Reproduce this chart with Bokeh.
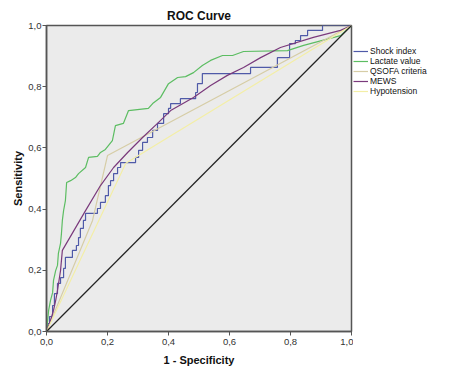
from bokeh.plotting import figure
from bokeh.layouts import row
from bokeh.models import Range1d, FixedTicker, Legend, LegendItem
from bokeh.embed import file_html
from bokeh.resources import INLINE

# ---- data ----
tick_values = [0.0, 0.2, 0.4, 0.6, 0.8, 1.0]
tick_labels = ["0,0", "0,2", "0,4", "0,6", "0,8", "1,0"]

shock_fpr = [0.000, 0.003, 0.010, 0.020, 0.026, 0.036, 0.046, 0.056, 0.062, 0.085, 0.098,
             0.105, 0.111, 0.121, 0.128, 0.167, 0.177, 0.193, 0.203, 0.210, 0.220, 0.233,
             0.243, 0.292, 0.302, 0.315, 0.331, 0.348, 0.364, 0.384, 0.400, 0.407, 0.439,
             0.489, 0.495, 0.511, 0.669, 0.757, 0.797, 0.816, 0.833, 0.856, 0.905, 1.000]
shock_tpr = [0.000, 0.026, 0.049, 0.085, 0.124, 0.157, 0.176, 0.206, 0.242, 0.265, 0.281,
             0.307, 0.337, 0.363, 0.386, 0.402, 0.422, 0.444, 0.477, 0.493, 0.516, 0.536,
             0.552, 0.569, 0.592, 0.618, 0.634, 0.657, 0.680, 0.712, 0.729, 0.745, 0.761,
             0.781, 0.810, 0.843, 0.863, 0.895, 0.941, 0.951, 0.967, 0.984, 1.000, 1.000]

lactate_fpr = [0.000, 0.007, 0.013, 0.020, 0.023, 0.030, 0.036, 0.039, 0.046, 0.049, 0.052,
               0.056, 0.062, 0.066, 0.079, 0.095, 0.105, 0.128, 0.138, 0.167, 0.177, 0.193,
               0.216, 0.226, 0.252, 0.269, 0.334, 0.348, 0.374, 0.400, 0.430, 0.456, 0.482,
               0.511, 0.538, 0.577, 0.610, 0.646, 0.790, 0.843, 0.964, 1.000]
lactate_tpr = [0.000, 0.069, 0.101, 0.127, 0.167, 0.199, 0.216, 0.255, 0.288, 0.320, 0.363,
               0.395, 0.428, 0.487, 0.493, 0.503, 0.516, 0.536, 0.569, 0.572, 0.585, 0.595,
               0.624, 0.673, 0.680, 0.722, 0.729, 0.745, 0.765, 0.810, 0.830, 0.833, 0.846,
               0.869, 0.886, 0.902, 0.902, 0.915, 0.918, 0.935, 0.967, 1.000]

qsofa_fpr = [0.000, 0.151, 0.200, 1.000]
qsofa_tpr = [0.000, 0.363, 0.575, 1.000]

mews_fpr = [0.000, 0.013, 0.023, 0.030, 0.036, 0.046, 0.052, 0.128, 0.177, 0.220, 0.266,
            0.315, 0.364, 0.407, 0.482, 0.538, 0.593, 0.646, 0.702, 0.767, 0.875, 0.964, 1.000]
mews_tpr = [0.000, 0.036, 0.069, 0.101, 0.134, 0.199, 0.265, 0.395, 0.477, 0.536, 0.585,
            0.634, 0.680, 0.722, 0.765, 0.804, 0.837, 0.863, 0.895, 0.928, 0.961, 0.984, 1.000]

hypo_fpr = [0.000, 0.260, 1.000]
hypo_tpr = [0.000, 0.550, 1.000]

ref_x = [0.0, 1.0]
ref_y = [0.0, 1.0]

names = ["Shock index", "Lactate value", "QSOFA criteria", "MEWS", "Hypotension"]
colors = ["#4f5aa8", "#5cbd62", "#d6cda6", "#7a3a7c", "#f3eea6"]

FONT = "Liberation Sans"

# ---- main chart ----
p = figure(width=353, height=373, output_backend="svg", toolbar_location=None,
           x_range=Range1d(0, 1), y_range=Range1d(0, 1),
           min_border_left=46, min_border_right=2, min_border_top=25, min_border_bottom=42,
           title="ROC Curve")

p.background_fill_color = "#ebebeb"
p.border_fill_color = "white"
p.outline_line_color = "#555555"
p.outline_line_width = 1.5
p.xgrid.visible = False
p.ygrid.visible = False

p.title.align = "center"
p.title.text_font = FONT
p.title.text_font_size = "12px"
p.title.text_font_style = "bold"
p.title.text_color = "#111111"
p.title.standoff = 5

for ax in (p.xaxis[0], p.yaxis[0]):
    ax.ticker = FixedTicker(ticks=tick_values)
    ax.major_label_overrides = {v: l for v, l in zip(tick_values, tick_labels)}
    ax.major_label_text_font = FONT
    ax.major_label_text_font_size = "9.5px"
    ax.major_label_text_color = "#333333"
    ax.major_tick_in = 0
    ax.major_tick_out = 4
    ax.minor_tick_line_color = None
    ax.axis_line_color = "#555555"
    ax.axis_line_width = 1.5
    ax.major_tick_line_color = "#555555"
    ax.axis_label_text_font = FONT
    ax.axis_label_text_font_size = "11px"
    ax.axis_label_text_font_style = "bold"
    ax.axis_label_text_color = "#111111"
    ax.major_label_standoff = 1

p.xaxis.axis_label = "1 - Specificity"
p.yaxis.axis_label = "Sensitivity"
p.xaxis.major_label_standoff = 3
p.xaxis.axis_label_standoff = 6
p.yaxis.axis_label_standoff = 1

p.step(shock_fpr, shock_tpr, mode="after", line_color=colors[0], line_width=1.2)
p.line(lactate_fpr, lactate_tpr, line_color=colors[1], line_width=1.2)
p.line(qsofa_fpr, qsofa_tpr, line_color=colors[2], line_width=1.2)
p.line(mews_fpr, mews_tpr, line_color=colors[3], line_width=1.2)
p.line(hypo_fpr, hypo_tpr, line_color=colors[4], line_width=1.2)
p.line(ref_x, ref_y, line_color="#222222", line_width=1.2)

# ---- legend panel (separate small figure at the right) ----
# its view range lies away from the data, so only the legend keys show
q = figure(width=114, height=373, output_backend="svg", toolbar_location=None,
           x_range=Range1d(2, 3), y_range=Range1d(2, 3),
           x_axis_location=None, y_axis_location=None,
           min_border_left=0, min_border_right=0, min_border_top=0, min_border_bottom=0)
q.xgrid.visible = False
q.ygrid.visible = False
q.outline_line_color = None
q.background_fill_color = "white"
q.border_fill_color = "white"

key_renderers = [q.line(ref_x, ref_y, line_color=c, line_width=1.2) for c in colors]
items = [LegendItem(label=n, renderers=[r]) for n, r in zip(names, key_renderers)]
legend = Legend(items=items, location=(0, 235), orientation="vertical",
                label_text_font=FONT, label_text_font_size="8.5px", label_text_color="#111111",
                glyph_width=15, glyph_height=10, label_height=10, label_standoff=2,
                spacing=0, padding=0, margin=0,
                background_fill_alpha=0, border_line_color=None)
q.add_layout(legend, "center")

layout = row(p, q)
open("out.html", "w").write(file_html(layout, INLINE))
